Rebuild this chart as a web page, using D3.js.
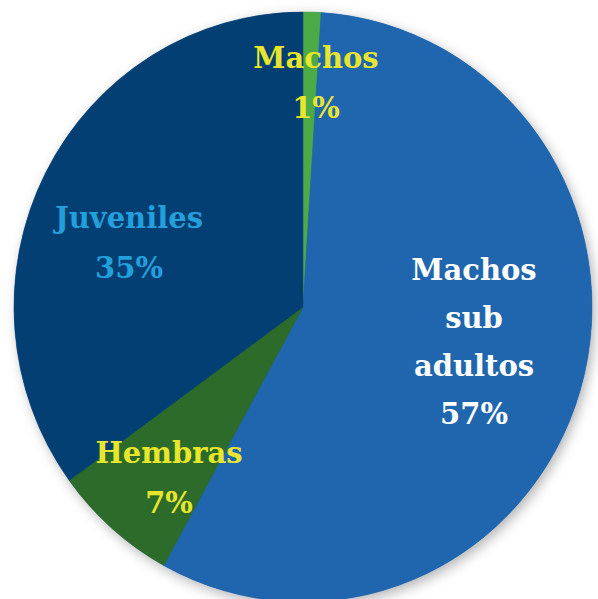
<!DOCTYPE html>
<html><head><meta charset="utf-8">
<script src="https://cdn.jsdelivr.net/npm/d3@7"></script>
<style>html,body{margin:0;padding:0;background:#fff;}</style>
</head><body>
<svg id="chart" width="598" height="599"></svg>
<script>
const categories = ["Machos", "Machos sub adultos", "Hembras", "Juveniles"];
const values = [1, 57, 7, 35];
const labelLines = [["Machos", "1%"], ["Machos", "sub", "adultos", "57%"], ["Hembras", "7%"], ["Juveniles", "35%"]];
const colors = ["#4cab47", "#1f66ae", "#2d6b2a", "#043f74"];
const labelColors = ["#e8e62c", "#ffffff", "#e8e62c", "#23a0dc"];
const labelPos = [[316, 68], [474, 280], [169, 463], [129, 228]];

const svg = d3.select("#chart");
const cx = 303, cy = 307, rx = 289, ry = 295;

const defs = svg.append("defs");
const f = defs.append("filter").attr("id", "sh").attr("x", "-10%").attr("y", "-10%").attr("width", "120%").attr("height", "120%");
f.append("feDropShadow").attr("dx", 3).attr("dy", 4).attr("stdDeviation", 6).attr("flood-color", "#000").attr("flood-opacity", 0.3);

const pie = d3.pie().sort(null).value(d => d)(values);
const arc = d3.arc().innerRadius(0).outerRadius(rx);

const g = svg.append("g").attr("transform", `translate(${cx},${cy}) scale(1,${ry/rx})`);
g.append("ellipse").attr("rx", rx).attr("ry", rx).attr("fill", "#1f66ae").attr("filter", "url(#sh)");
g.selectAll("path").data(pie).join("path")
  .attr("d", arc)
  .attr("fill", (d, i) => colors[i])
  .attr("stroke", (d, i) => colors[i])
  .attr("stroke-width", 0.5);

const lg = svg.append("g");
labelLines.forEach((lines, i) => {
  const t = lg.append("text")
    .attr("text-anchor", "middle")
    .attr("font-family", "'DejaVu Serif', serif")
    .attr("font-weight", "bold")
    .attr("font-size", 29)
    .attr("fill", labelColors[i]);
  lines.forEach((s, j) => {
    t.append("tspan").attr("x", labelPos[i][0]).attr("y", labelPos[i][1] + j * (i === 1 ? 48 : 50)).text(s);
  });
});
</script>
</body></html>
